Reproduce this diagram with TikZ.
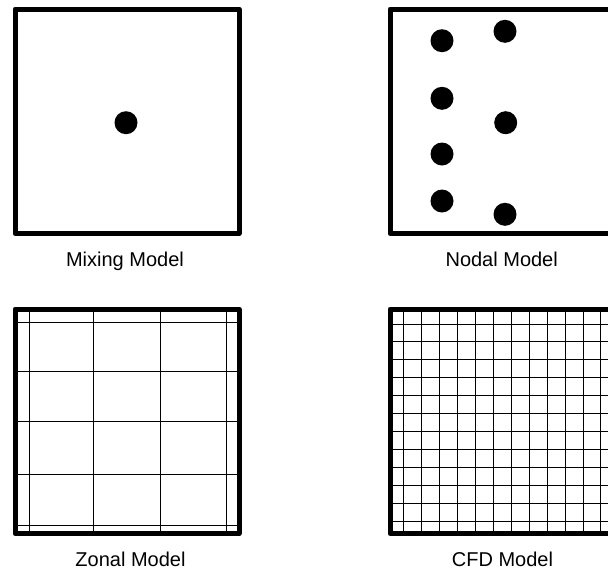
\documentclass[tikz,border=0pt]{standalone}
\usepackage{fontspec}
\setmainfont{Liberation Sans}
\begin{document}
\begin{tikzpicture}[x=1pt,y=-1pt,
  roombox/.style={draw=black,line width=5pt,line join=round},
  gridline/.style={draw=black,line width=1.2pt},
  dot/.style={fill=black},
  caption/.style={font=\fontsize{20}{22}\selectfont,anchor=base,inner sep=0pt}]
\useasboundingbox (0,0) rectangle (608,571);
\clip (0,0) rectangle (608,571);
% Mixing model
\draw[roombox] (15,9) rectangle (239,233.5);
\fill[dot] (126,122.7) circle (11.5);
\node[caption] (mix) at (125,266.7) {Mixing Model};
% Nodal model
\draw[roombox] (390,9) rectangle (614.3,233.5);
\foreach \p in {(442,40.7),(505,31.3),(442,98.3),(505.7,122.7),(442,154),(442,201),(505,214.3)}
  \fill[dot] \p circle (11.5);
\node[caption] (nod) at (501.7,266.7) {Nodal Model};
% Zonal model
\foreach \xx in {29.5,93.5,160.5,226.5}
  \draw[gridline] (\xx,309) -- (\xx,533.5);
\foreach \yy in {322.5,371.5,421.5,474.5,525.5}
  \draw[gridline] (15,\yy) -- (239,\yy);
\draw[roombox] (15,309) rectangle (239,533.5);
\node[caption] (zon) at (130.5,566.7) {Zonal Model};
% CFD model
\foreach \xx in {403.5,421.5,439.5,457.5,475.5,493.5,511.5,529.5,547.5,565.5,583.5,600.5}
  \draw[gridline] (\xx,309) -- (\xx,533.5);
\foreach \yy in {324.5,341.5,359.5,377.5,395.5,413.5,431.5,449.5,467.5,485.5,503.5,521.5}
  \draw[gridline] (390,\yy) -- (614.3,\yy);
\draw[roombox] (390,309) rectangle (614.3,533.5);
\node[caption] (cfd) at (502.5,566.7) {CFD Model};
\end{tikzpicture}
\end{document}
